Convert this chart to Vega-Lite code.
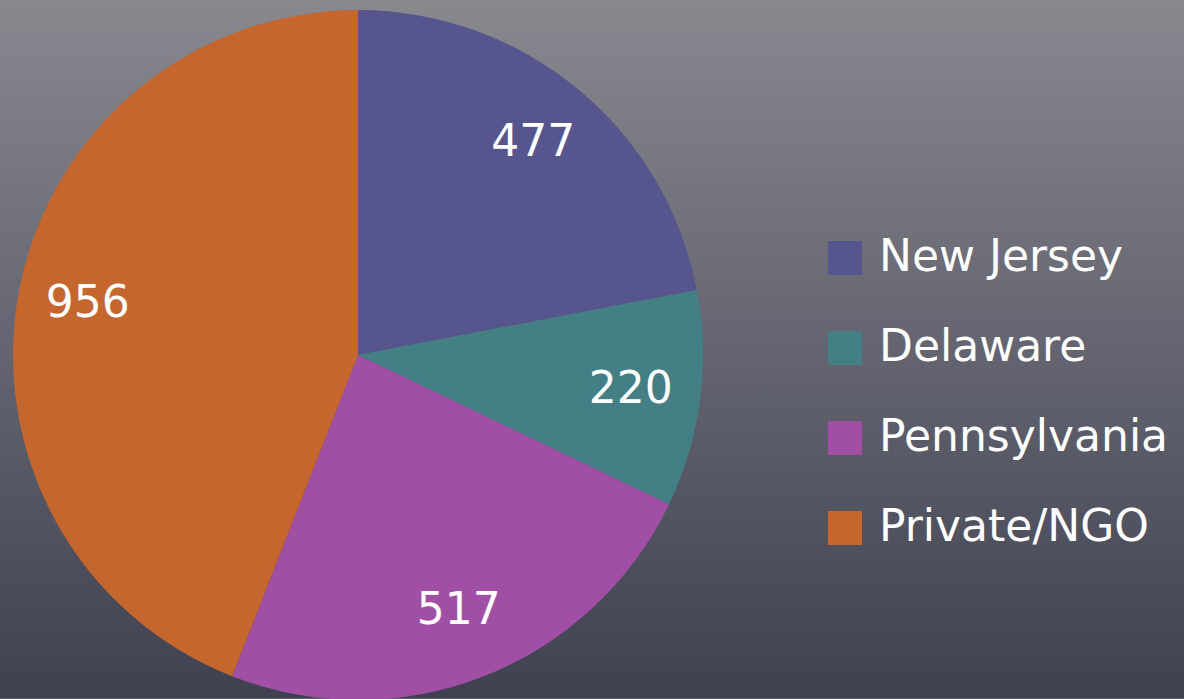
{
  "$schema": "https://vega.github.io/schema/vega-lite/v6.json",
  "width": 1184,
  "height": 699,
  "autosize": {"type": "fit", "contains": "padding"},
  "padding": 0,
  "background": "#5e5f6b",
  "view": {
    "stroke": null,
    "fill": {
      "gradient": "linear", "x1": 0, "y1": 0, "x2": 0, "y2": 1,
      "stops": [{"offset": 0, "color": "#88888f"}, {"offset": 1, "color": "#3f4151"}]
    }
  },
  "data": {
    "values": [
      {"source": "New Jersey", "value": 477},
      {"source": "Delaware", "value": 220},
      {"source": "Pennsylvania", "value": 517},
      {"source": "Private/NGO", "value": 956}
    ]
  },
  "transform": [
    {"window": [{"op": "row_number", "as": "slice_order"}]}
  ],
  "encoding": {
    "theta": {"field": "value", "type": "quantitative", "stack": true},
    "order": {"field": "slice_order", "type": "quantitative"},
    "color": {
      "field": "source",
      "type": "nominal",
      "sort": ["New Jersey", "Delaware", "Pennsylvania", "Private/NGO"],
      "scale": {
        "domain": ["New Jersey", "Delaware", "Pennsylvania", "Private/NGO"],
        "range": ["#56558d", "#447f86", "#a14fa4", "#c4662e"]
      },
      "legend": {
        "orient": "none",
        "legendX": 823,
        "legendY": 236,
        "title": null,
        "symbolType": "square",
        "symbolSize": 1156,
        "symbolStrokeWidth": 0,
        "symbolOpacity": 1,
        "labelFontSize": 44,
        "labelFont": "DejaVu Sans",
        "labelColor": "white",
        "labelOffset": 12,
        "labelLimit": 400,
        "rowPadding": 46
      }
    }
  },
  "layer": [
    {"mark": {"type": "arc", "x": 358, "y": 355, "outerRadius": 345}},
    {
      "mark": {"type": "text", "x": 358, "y": 355, "radius": 275, "fontSize": 44, "font": "DejaVu Sans"},
      "encoding": {
        "text": {"field": "value", "type": "quantitative"},
        "fill": {"value": "white"}
      }
    }
  ]
}
